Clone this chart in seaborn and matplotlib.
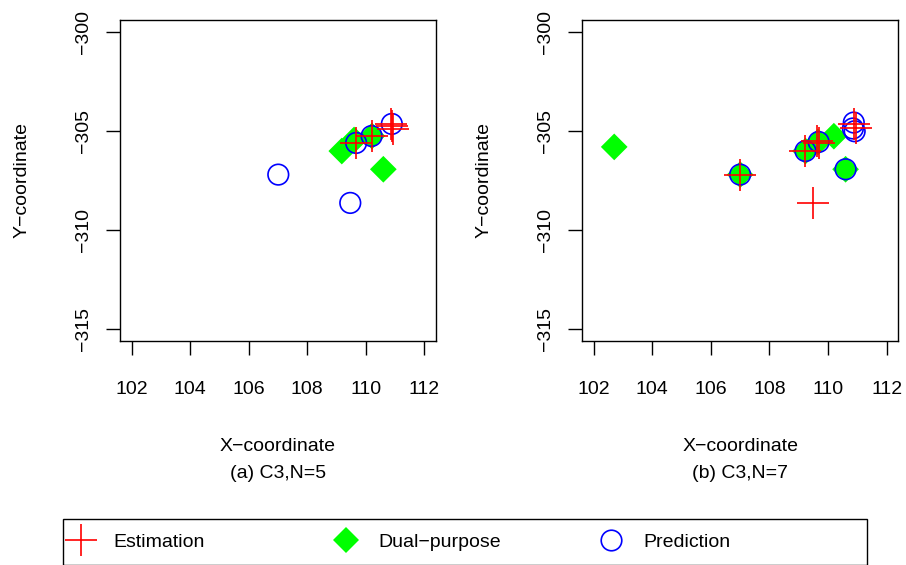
import matplotlib
matplotlib.use("Agg")
import matplotlib.pyplot as plt
from matplotlib.lines import Line2D
from matplotlib.patches import Rectangle
import seaborn as sns

# ---------------- data ----------------
xticks = [102, 104, 106, 108, 110, 112]
yticks = [-300, -305, -310, -315]

# panel (a) C3, N=5
est_a_x = [109.67, 110.21, 110.86, 110.92, 110.89]
est_a_y = [-305.61, -305.26, -304.67, -304.93, -304.75]
dual_a_x = [109.18, 109.60, 110.21, 110.60]
dual_a_y = [-306.02, -305.46, -305.26, -306.94]
pred_a_x = [107.01, 109.47, 109.67, 110.20, 110.89]
pred_a_y = [-307.21, -308.64, -305.61, -305.26, -304.65]

# panel (b) C3, N=7
est_b_x = [107.00, 109.23, 109.64, 109.70, 109.48, 110.88, 110.94]
est_b_y = [-307.21, -306.02, -305.50, -305.60, -308.64, -304.67, -304.88]
dual_b_x = [102.70, 107.00, 109.23, 109.66, 110.20, 110.60]
dual_b_y = [-305.81, -307.21, -306.02, -305.56, -305.27, -306.94]
pred_b_x = [107.00, 109.23, 109.68, 110.60, 110.88, 110.85, 110.91]
pred_b_y = [-307.21, -306.02, -305.56, -306.94, -304.58, -304.88, -305.02]

subtitles = ["(a) C3,N=5", "(b) C3,N=7"]
labels = ["Estimation", "Dual\u2212purpose", "Prediction"]

# ---------------- style ----------------
sns.set_style("white")
plt.rcParams["font.family"] = ["Liberation Sans", "DejaVu Sans"]
plt.rcParams["axes.unicode_minus"] = True
FS = 14

RED, GREEN, BLUE = "#FF0000", "#00FF00", "#0000FF"

fig = plt.figure(figsize=(9.06, 5.65), dpi=100)
W, H = 906.0, 565.0
ax1 = fig.add_axes([120 / W, 1 - 340.7 / H, 316 / W, 320.7 / H])
ax2 = fig.add_axes([582 / W, 1 - 340.7 / H, 316.3 / W, 320.7 / H])

panels = [
    (ax1, est_a_x, est_a_y, dual_a_x, dual_a_y, pred_a_x, pred_a_y, subtitles[0]),
    (ax2, est_b_x, est_b_y, dual_b_x, dual_b_y, pred_b_x, pred_b_y, subtitles[1]),
]

for ax, ex, ey, dx, dy, px, py, sub in panels:
    sns.scatterplot(x=dx, y=dy, marker="D", s=185, color=GREEN,
                    edgecolor="none", linewidth=0, ax=ax, zorder=3)
    sns.scatterplot(x=px, y=py, marker="o", s=220, facecolor="none",
                    edgecolor=BLUE, linewidth=1.2, ax=ax, zorder=4)
    sns.scatterplot(x=ex, y=ey, marker="+", s=520, color=RED,
                    linewidth=1.2, ax=ax, zorder=5)
    ax.set_xlim(101.6, 112.4)
    ax.set_ylim(-315.6, -299.4)
    ax.set_xticks(xticks)
    ax.set_yticks(yticks)
    ax.set_xticklabels([str(t) for t in xticks])
    ax.set_yticklabels(["\u2212" + str(abs(t)) for t in yticks])
    for sp in ax.spines.values():
        sp.set_visible(True)
        sp.set_color("black")
        sp.set_linewidth(1.0)
    ax.tick_params(axis="both", which="major", direction="out", length=10,
                   width=1.0, color="black", labelsize=FS, labelcolor="black",
                   left=True, bottom=True)
    ax.tick_params(axis="x", pad=19)
    ax.tick_params(axis="y", pad=10, labelrotation=90)
    for lab in ax.get_yticklabels():
        lab.set_va("center")
    ax.set_xlabel("X\u2212coordinate", fontsize=FS, color="black")
    ax.xaxis.set_label_coords(0.5, -0.304)
    ax.set_ylabel("Y\u2212coordinate", fontsize=FS, color="black")
    ax.yaxis.label.set_va("center")
    ax.yaxis.set_label_coords(-0.309, 0.5)
    ax.text(0.5, (340.7 - 473) / 320.7, sub, transform=ax.transAxes,
            ha="center", va="center", fontsize=FS, color="black")
    ax.grid(False)

# ---------------- legend ----------------
handles = [
    Line2D([], [], linestyle="none", marker="+", markersize=22.8,
           markeredgewidth=1.2, color=RED),
    Line2D([], [], linestyle="none", marker="D", markersize=13.6,
           markeredgewidth=0, color=GREEN),
    Line2D([], [], linestyle="none", marker="o", markersize=14.8,
           markeredgewidth=1.2, markerfacecolor="none", markeredgecolor=BLUE),
]
centers = [81, 346, 611]
hl = 1.0
for h, lab, cx in zip(handles, labels, centers):
    start = cx - hl * FS * 100 / 72 / 2
    leg = fig.legend(handles=[h], labels=[lab], loc="center left",
                     bbox_to_anchor=(start / W, 1 - 541.7 / H),
                     frameon=False, fontsize=FS, handlelength=hl,
                     handletextpad=1.15, borderpad=0, borderaxespad=0,
                     numpoints=1)
    for t in leg.get_texts():
        t.set_color("black")

fig.add_artist(Rectangle((63 / W, 1 - 564.5 / H), (867 - 63) / W,
                         (564.5 - 519) / H, transform=fig.transFigure,
                         fill=False, edgecolor="black", linewidth=1.0))

fig.savefig("out.png", dpi=100)
